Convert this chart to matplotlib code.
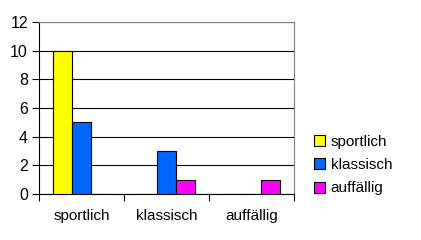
import matplotlib.pyplot as plt
import numpy as np

plt.rcParams["font.family"] = ["Liberation Sans", "DejaVu Sans"]

categories = ["sportlich", "klassisch", "auffällig"]
series_names = ["sportlich", "klassisch", "auffällig"]
values_sportlich = [10, 0, 0]
values_klassisch = [5, 3, 0]
values_auffaellig = [0, 1, 1]
colors = ["#FFFF00", "#0066FF", "#FF00FF"]

fig = plt.figure(figsize=(4.21, 2.40), dpi=100)
ax = fig.add_axes([39 / 421, 46 / 240, 255 / 421, 172 / 240])

x = np.arange(len(categories))
w = 19 / 85
all_vals = [values_sportlich, values_klassisch, values_auffaellig]
for i, (vals, name, c) in enumerate(zip(all_vals, series_names, colors)):
    ax.bar(x + (i - 1) * w, vals, w, color=c, edgecolor="black", linewidth=0.8,
           label=name, zorder=3)

ax.set_xlim(-0.5, 2.5)
ax.set_ylim(0, 12)
ax.set_yticks(range(0, 13, 2))
ax.yaxis.grid(True, color="black", linewidth=0.8, zorder=0)
ax.set_xticks([-0.5, 0.5, 1.5, 2.5])
ax.set_xticklabels([])
ax.set_xticks(x, minor=True)
ax.set_xticklabels(categories, minor=True)
ax.tick_params(axis="x", which="minor", length=0, pad=11, labelsize=11)
ax.tick_params(axis="x", which="major", length=5, width=0.8, direction="out")
ax.tick_params(axis="y", length=5, width=0.8, direction="out", labelsize=11.5, pad=3)

for s in ["top", "right"]:
    ax.spines[s].set_color("#808080")
for s in ["left", "bottom"]:
    ax.spines[s].set_color("black")

leg = fig.legend(loc="center left", bbox_to_anchor=(300 / 421, 1 - 165 / 240),
                 frameon=False, fontsize=11, handlelength=0.75, handleheight=0.75,
                 handletextpad=0.35, labelspacing=0.62)

fig.savefig("out.png", dpi=100)
